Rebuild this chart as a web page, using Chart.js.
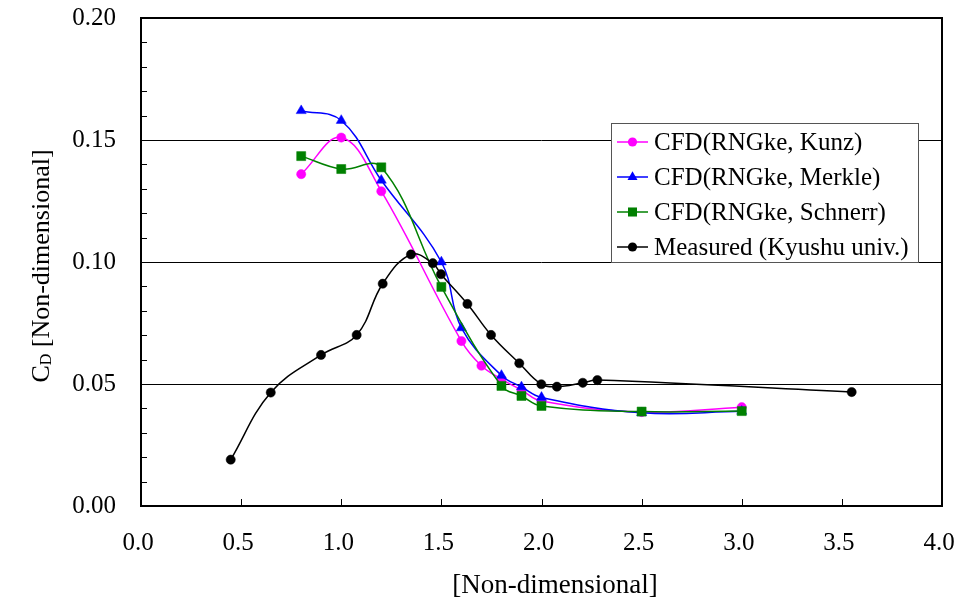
<!DOCTYPE html>
<html><head><meta charset="utf-8">
<script src="https://cdn.jsdelivr.net/npm/chart.js@4.4.1/dist/chart.umd.min.js"></script>
<style>html,body{margin:0;padding:0;background:#fff}#wrap{width:972px;height:601px;position:relative}</style>
</head><body><div id="wrap"><canvas id="c" width="972" height="601"></canvas></div>
<script>
// ---- data ----
const seriesNames = ['CFD(RNGke, Kunz)', 'CFD(RNGke, Merkle)', 'CFD(RNGke, Schnerr)', 'Measured (Kyushu univ.)'];
const kunzX = [0.8, 1.0, 1.2, 1.6, 1.7, 1.8, 1.9, 2.0, 2.5, 3.0];
const kunzY = [0.136, 0.151, 0.129, 0.0676, 0.0575, 0.052, 0.0475, 0.043, 0.0385, 0.0405];
const merkleX = [0.8, 1.0, 1.2, 1.5, 1.6, 1.8, 1.9, 2.0, 2.5, 3.0];
const merkleY = [0.162, 0.158, 0.1335, 0.100, 0.073, 0.0535, 0.0488, 0.0445, 0.0382, 0.0388];
const schnerrX = [0.8, 1.0, 1.2, 1.5, 1.8, 1.9, 2.0, 2.5, 3.0];
const schnerrY = [0.1434, 0.1381, 0.1388, 0.0898, 0.0492, 0.0451, 0.0410, 0.0387, 0.0389];
const measuredX = [0.448, 0.648, 0.899, 1.077, 1.207, 1.348, 1.457, 1.498, 1.630, 1.748, 1.889, 1.999, 2.077, 2.206, 2.279, 3.549];
const measuredY = [0.019, 0.0465, 0.0619, 0.0701, 0.0911, 0.1031, 0.0995, 0.095, 0.0828, 0.0701, 0.0585, 0.0499, 0.0489, 0.0505, 0.0516, 0.0467];
const xTickStep = 0.5, xMin = 0, xMax = 4.0;
const yTickStep = 0.05, yMin = 0, yMax = 0.20, yMinorStep = 0.01;
const xTitle = '[Non-dimensional]';
const yTitleMain = 'C', yTitleSub = 'D', yTitleRest = ' [Non-dimensional]';

const FONT = "'Liberation Serif', 'Times New Roman', serif";
const zip = (xs, ys) => xs.map((x, i) => ({x, y: ys[i]}));

function ds(label, xs, ys, color, style, radius, order) {
  return {
    label, data: zip(xs, ys), borderColor: color, backgroundColor: color,
    pointBackgroundColor: color, pointBorderColor: color, pointBorderWidth: 0.5,
    pointStyle: style, pointRadius: radius, pointHoverRadius: radius,
    borderWidth: 1.5, tension: 0.4, showLine: true, fill: false, order
  };
}

const datasets = [
  ds(seriesNames[0], kunzX, kunzY, '#FF00FF', 'circle', 4.6, 4),
  ds(seriesNames[1], merkleX, merkleY, '#0000FF', 'triangle', 5.8, 3),
  ds(seriesNames[2], schnerrX, schnerrY, '#008000', 'rect', 6.4, 2),
  ds(seriesNames[3], measuredX, measuredY, '#000000', 'circle', 4.6, 1)
];

function marker(ctx, style, x, y, r, color) {
  ctx.save();
  ctx.fillStyle = color;
  ctx.beginPath();
  if (style === 'circle') { ctx.arc(x, y, r, 0, Math.PI * 2); }
  else if (style === 'rect') { const s = r * Math.SQRT1_2; ctx.rect(x - s, y - s, 2 * s, 2 * s); }
  else if (style === 'triangle') {
    ctx.moveTo(x, y - r);
    ctx.lineTo(x + r * Math.sqrt(3) / 2, y + r / 2);
    ctx.lineTo(x - r * Math.sqrt(3) / 2, y + r / 2);
    ctx.closePath();
  }
  ctx.fill();
  ctx.restore();
}

const decor = {
  id: 'decor',
  beforeDatasetsDraw(chart) {
    const {ctx, chartArea: a, scales: {x, y}} = chart;
    ctx.save();
    ctx.strokeStyle = '#000'; ctx.lineWidth = 1;
    for (let v = yMin + yMinorStep; v < yMax - 1e-9; v += yMinorStep) {
      const py = Math.round(y.getPixelForValue(v)) + 0.5;
      ctx.beginPath(); ctx.moveTo(a.left, py); ctx.lineTo(a.left + 6, py); ctx.stroke();
    }
    x.ticks.forEach(t => {
      const px = Math.round(x.getPixelForValue(t.value)) + 0.5;
      ctx.beginPath(); ctx.moveTo(px, a.bottom); ctx.lineTo(px, a.bottom - 7); ctx.stroke();
    });
    ctx.restore();
  },
  afterDatasetsDraw(chart) {
    const {ctx, chartArea: a} = chart;
    ctx.save();
    ctx.strokeStyle = '#000'; ctx.lineWidth = 2;
    ctx.strokeRect(a.left, a.top, a.right - a.left, a.bottom - a.top);

    const lx = 611.5, ly = 123.5, lw = 307, lh = 139;
    ctx.fillStyle = '#fff'; ctx.fillRect(lx, ly, lw, lh);
    ctx.strokeStyle = '#555'; ctx.lineWidth = 1; ctx.strokeRect(lx, ly, lw, lh);
    ctx.font = '25px ' + FONT; ctx.textBaseline = 'middle'; ctx.textAlign = 'left';
    chart.data.datasets.forEach((d, i) => {
      const ry = 142 + i * 35;
      ctx.strokeStyle = d.borderColor; ctx.lineWidth = 1.5;
      ctx.beginPath(); ctx.moveTo(617, ry); ctx.lineTo(648, ry); ctx.stroke();
      marker(ctx, d.pointStyle, 632.5, ry, d.pointRadius, d.borderColor);
      ctx.fillStyle = '#000';
      ctx.fillText(d.label, 654, ry + 1);
    });

    ctx.fillStyle = '#000';
    ctx.font = '27px ' + FONT; ctx.textBaseline = 'alphabetic'; ctx.textAlign = 'center';
    ctx.fillText(xTitle, 555, 593);

    ctx.translate(48.5, 266);
    ctx.rotate(-Math.PI / 2);
    ctx.textAlign = 'left';
    const fMain = '26px ' + FONT, fSub = '16px ' + FONT;
    ctx.font = fMain; const w1 = ctx.measureText(yTitleMain).width; const w3 = ctx.measureText(yTitleRest).width;
    ctx.font = fSub; const w2 = ctx.measureText(yTitleSub).width;
    let sx = -(w1 + w2 + w3) / 2;
    ctx.font = fMain; ctx.fillText(yTitleMain, sx, 0); sx += w1;
    ctx.font = fSub; ctx.fillText(yTitleSub, sx, 2.5); sx += w2;
    ctx.font = fMain; ctx.fillText(yTitleRest, sx, 0);
    ctx.restore();
  }
};

function noPad(s) { s.paddingTop = 0; s.paddingBottom = 0; s.paddingLeft = 0; s.paddingRight = 0; }

new Chart(document.getElementById('c'), {
  type: 'scatter',
  data: {datasets},
  options: {
    responsive: false, animation: false, events: [],
    layout: {padding: {top: 18, right: 30, left: 0, bottom: 0}},
    plugins: {legend: {display: false}, tooltip: {enabled: false}, title: {display: false}},
    scales: {
      x: {
        type: 'linear', min: xMin, max: xMax,
        grid: {display: false, drawTicks: false},
        border: {display: false},
        ticks: {stepSize: xTickStep, color: '#000', font: {family: FONT, size: 25}, padding: 22, labelOffset: -3,
          callback: v => Number(v).toFixed(1), maxRotation: 0, autoSkip: false},
        afterFit: s => { s.height = 95; noPad(s); }
      },
      y: {
        type: 'linear', min: yMin, max: yMax,
        grid: {color: '#000', lineWidth: 1, drawTicks: false},
        border: {display: false},
        ticks: {stepSize: yTickStep, color: '#000', font: {family: FONT, size: 25}, padding: 25,
          callback: v => Number(v).toFixed(2)},
        afterFit: s => { s.width = 141; noPad(s); }
      }
    }
  },
  plugins: [decor]
});
</script></body></html>
